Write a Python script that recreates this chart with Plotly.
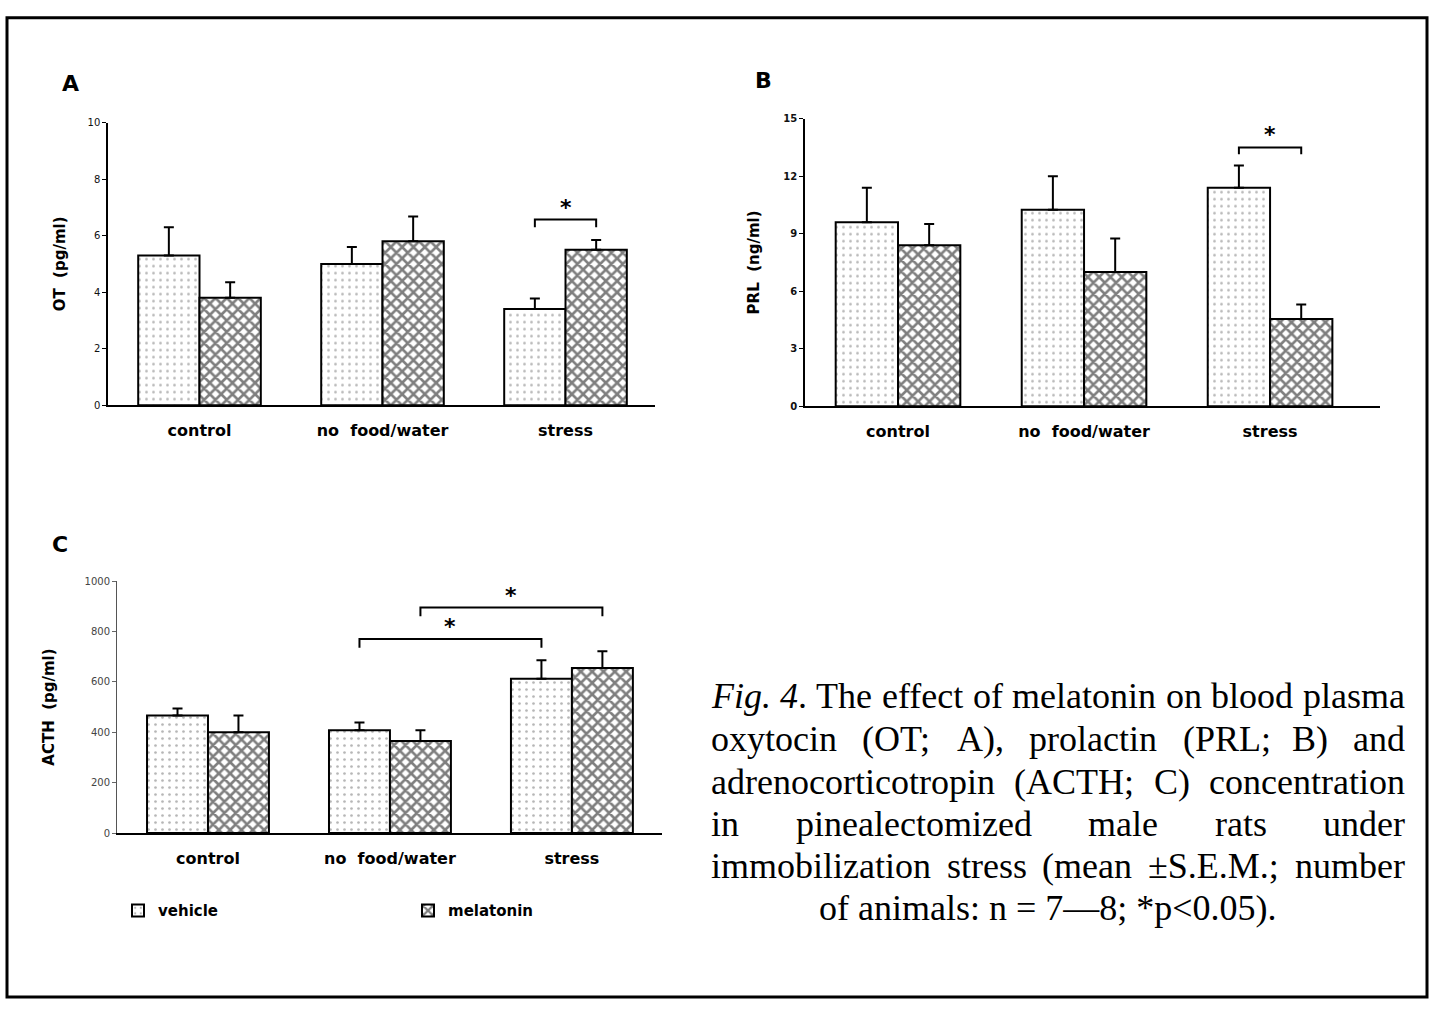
import plotly.graph_objects as go
import re

W, H = 1439, 1010

# ---------------- data ----------------
categories = ["control", "no\u00a0 food/water", "stress"]
series_names = ["vehicle", "melatonin"]

ot_vehicle = [5.3, 5.0, 3.4]
ot_vehicle_sem = [1.0, 0.6, 0.38]
ot_melatonin = [3.8, 5.8, 5.5]
ot_melatonin_sem = [0.55, 0.88, 0.35]

prl_vehicle = [9.6, 10.25, 11.4]
prl_vehicle_sem = [1.8, 1.75, 1.15]
prl_melatonin = [8.4, 7.0, 4.55]
prl_melatonin_sem = [1.1, 1.75, 0.75]

acth_vehicle = [467, 408, 612]
acth_vehicle_sem = [27, 31, 74]
acth_melatonin = [400, 365, 655]
acth_melatonin_sem = [67, 43, 67]

ot_ticks = [0, 2, 4, 6, 8, 10]
prl_ticks = [0, 3, 6, 9, 12, 15]
acth_ticks = [0, 200, 400, 600, 800, 1000]

# significance brackets: (panel, (group, series), (group, series), y level, drop)
brackets = [
    ("A", (2, 0), (2, 1), 6.57, 0.27),
    ("B", (2, 0), (2, 1), 13.5, 0.36),
    ("C", (1, 0), (2, 0), 770, 35),
    ("C", (1, 1), (2, 1), 895, 35),
]

caption_lines = [
    "<i>Fig.</i> <i>4</i>. The effect of melatonin on blood plasma",
    "oxytocin (OT; A), prolactin (PRL; B) and",
    "adrenocorticotropin (ACTH; C) concentration",
    "in pinealectomized male rats under",
    "immobilization stress (mean \u00b1S.E.M.; number",
]
caption_last = "of animals: n = 7\u20148; *p<0.05)."

# ---------------- helpers ----------------
def px(x):
    return x / W

def py(y):
    return 1 - y / H

BARGAP = 0.33
BW = (1 - BARGAP) / 2

def bar_center(group, series):
    return group - BW / 2 + series * BW

SANS = "DejaVu Sans"
SERIF = "Liberation Serif"

fig = go.Figure()

panels = {
    "A": dict(xa="x", ya="y", data=[(ot_vehicle, ot_vehicle_sem), (ot_melatonin, ot_melatonin_sem)]),
    "B": dict(xa="x2", ya="y2", data=[(prl_vehicle, prl_vehicle_sem), (prl_melatonin, prl_melatonin_sem)]),
    "C": dict(xa="x3", ya="y3", data=[(acth_vehicle, acth_vehicle_sem), (acth_melatonin, acth_melatonin_sem)]),
}

patterns = [
    dict(shape=".", fgcolor="#6a6a6a", bgcolor="white", size=7, solidity=0.12, fillmode="overlay"),
    dict(shape="x", fgcolor="black", bgcolor="white", size=8, solidity=0.55, fillmode="overlay"),
]

for key, p in panels.items():
    for s, (vals, sem) in enumerate(p["data"]):
        fig.add_trace(go.Bar(
            x=[0, 1, 2], y=vals, name=series_names[s],
            xaxis=p["xa"], yaxis=p["ya"],
            offsetgroup=str(s),
            marker=dict(color="white", line=dict(color="black", width=2), pattern=patterns[s]),
            error_y=dict(type="data", array=sem, arrayminus=[0, 0, 0], symmetric=False,
                         color="black", thickness=2, width=5),
            showlegend=(key == "C"),
            legendgroup=series_names[s],
        ))

# significance brackets and stars
for key, a, b, yl, drop in brackets:
    xa, ya = panels[key]["xa"], panels[key]["ya"]
    x1 = bar_center(*a)
    x2 = bar_center(*b)
    fig.add_shape(type="path",
                  path=f"M {x1},{yl - drop} L {x1},{yl} L {x2},{yl} L {x2},{yl - drop}",
                  xref=xa, yref=ya, line=dict(color="black", width=2))
    fig.add_annotation(x=(x1 + x2) / 2, y=yl, xref=xa, yref=ya, text="<b>*</b>",
                       showarrow=False, xanchor="center", yanchor="bottom", yshift=-2,
                       font=dict(family=SANS, size=22, color="black"))

axis_common = dict(showgrid=False, zeroline=False)
xcommon = dict(axis_common, tickvals=[0, 1, 2], ticktext=categories, ticks="",
               showline=True, linecolor="black", linewidth=2,
               tickfont=dict(family=SANS, size=16, color="black", weight="bold"),
               ticklabelstandoff=10)

fig.update_layout(
    width=W, height=H, margin=dict(l=0, r=0, t=0, b=0),
    paper_bgcolor="white", plot_bgcolor="rgba(0,0,0,0)",
    barmode="group", bargap=BARGAP, bargroupgap=0,
    xaxis=dict(xcommon, domain=[px(108), px(655)], range=[-0.5, 2.489], anchor="y"),
    yaxis=dict(axis_common, domain=[py(404), py(118)], range=[0, 10], anchor="x",
               tickvals=ot_ticks, ticks="outside", ticklen=4, tickcolor="black",
               showline=True, linecolor="black", linewidth=1.5,
               tickfont=dict(family=SANS, size=10, color="#111"),
               title=dict(text="OT\u00a0 (pg/ml)", standoff=18,
                          font=dict(family=SANS, size=15, color="black", weight="bold"))),
    xaxis2=dict(xcommon, domain=[px(805), px(1380)], range=[-0.5, 2.591], anchor="y2"),
    yaxis2=dict(axis_common, domain=[py(405), py(114)], range=[0, 15], anchor="x2",
                tickvals=prl_ticks, ticks="outside", ticklen=4, tickcolor="black",
                showline=True, linecolor="black", linewidth=1.5,
                tickfont=dict(family=SANS, size=10, color="#111", weight="bold"),
                title=dict(text="PRL\u00a0 (ng/ml)", standoff=20,
                           font=dict(family=SANS, size=15, color="black", weight="bold"))),
    xaxis3=dict(xcommon, domain=[px(117), px(662)], range=[-0.5, 2.495], anchor="y3"),
    yaxis3=dict(axis_common, domain=[py(837), py(582)], range=[0, 1000], anchor="x3",
                tickvals=acth_ticks, ticks="outside", ticklen=4, tickcolor="#666",
                showline=True, linecolor="#555", linewidth=1,
                tickfont=dict(family=SANS, size=10, color="#444"),
                title=dict(text="ACTH\u00a0 (pg/ml)", standoff=26,
                           font=dict(family=SANS, size=15, color="black", weight="bold"))),
    legend=dict(orientation="h", x=px(118), y=py(899), xanchor="left", yanchor="top",
                entrywidth=245, entrywidthmode="pixels", traceorder="normal",
                font=dict(family=SANS, size=15, color="black", weight="bold"),
                bgcolor="rgba(0,0,0,0)"),
)

# panel letters
for letter, (lx, ly) in {"A": (70, 78), "B": (763, 75), "C": (60, 545)}.items():
    fig.add_annotation(x=px(lx), y=py(ly), xref="paper", yref="paper", text=f"<b>{letter}</b>",
                       showarrow=False, xanchor="center", yanchor="middle",
                       font=dict(family=SANS, size=22, color="black"))

# outer frame
fig.add_shape(type="rect", xref="paper", yref="paper", x0=px(7), y0=py(1003), x1=px(1427), y1=py(12),
              line=dict(color="black", width=3), fillcolor="rgba(0,0,0,0)", layer="above")

# caption (justified lines, Times metrics)
TIMES = {
    'a': 444, 'b': 500, 'c': 444, 'd': 500, 'e': 444, 'f': 333, 'g': 500, 'h': 500, 'i': 278,
    'j': 278, 'k': 500, 'l': 278, 'm': 778, 'n': 500, 'o': 500, 'p': 500, 'q': 500, 'r': 333,
    's': 389, 't': 278, 'u': 500, 'v': 500, 'w': 722, 'x': 500, 'y': 500, 'z': 444,
    'A': 722, 'B': 667, 'C': 667, 'D': 722, 'E': 611, 'F': 611, 'G': 722, 'H': 722, 'I': 333,
    'M': 889, 'N': 722, 'O': 722, 'P': 556, 'R': 667, 'S': 556, 'T': 611,
    '(': 333, ')': 333, ';': 278, ',': 250, '.': 250, ':': 278, '\u00b1': 564, '*': 500,
    '<': 564, '=': 564, '\u2014': 1000, ' ': 250,
}
for d in "0123456789":
    TIMES[d] = 500

CAP_SIZE = 36
CAP_LEFT, CAP_RIGHT = 710, 1404
line_ys = [698, 742, 785, 828, 870, 913]

def word_width(wd):
    plain = re.sub(r"<[^>]+>", "", wd)
    return sum(TIMES.get(ch, 500) for ch in plain) * CAP_SIZE / 1000

for li, line in enumerate(caption_lines):
    words = line.split(" ")
    widths = [word_width(wd) for wd in words]
    gap = (CAP_RIGHT - CAP_LEFT - sum(widths)) / (len(words) - 1)
    xcur = CAP_LEFT
    for wd, wdw in zip(words, widths):
        fig.add_annotation(x=px(xcur), y=py(line_ys[li]), xref="paper", yref="paper",
                           text=wd, showarrow=False, xanchor="left", yanchor="middle",
                           borderpad=0, font=dict(family=SERIF, size=CAP_SIZE, color="black"))
        xcur += wdw + gap

fig.add_annotation(x=px(1048), y=py(line_ys[5]), xref="paper", yref="paper",
                   text=caption_last, showarrow=False, xanchor="center", yanchor="middle",
                   borderpad=0, font=dict(family=SERIF, size=CAP_SIZE, color="black"))

fig.write_html("out.html", config={"displayModeBar": False},
               post_script="document.body.style.margin='0';document.body.style.overflow='hidden';")
